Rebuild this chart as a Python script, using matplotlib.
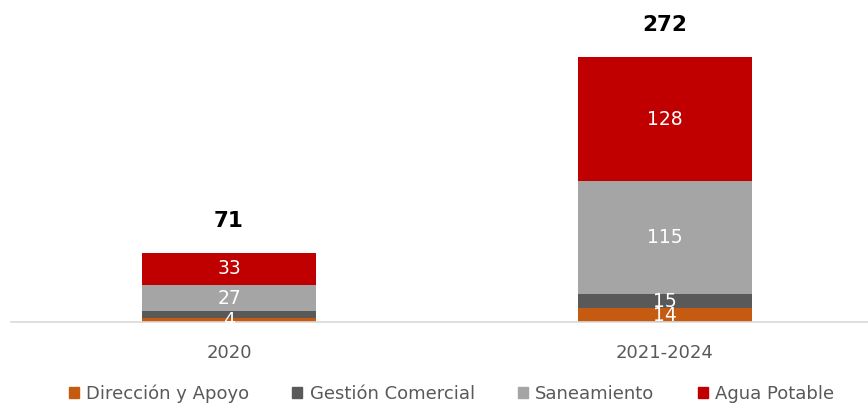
import matplotlib.pyplot as plt
import matplotlib.patches as mpatches

periods = ['2020', '2021-2024']
series = ['Dirección y Apoyo', 'Gestión Comercial', 'Saneamiento', 'Agua Potable']
direccion = [4, 14]
gestion = [7, 15]
saneamiento = [27, 115]
agua = [33, 128]
totals = [71, 272]
colors = ['#C55A11', '#595959', '#A5A5A5', '#C00000']

# which labels show inside the bars
shown = [
    [True, True],
    [False, True],
    [True, True],
    [True, True],
]

fig = plt.figure(figsize=(8.68, 4.08), dpi=100)
ax = fig.add_axes([11 / 868, 1 - 322 / 408, 872 / 868, 322 / 408])

x = range(len(periods))
bottom = [0, 0]
for i, (name, vals) in enumerate(zip(series, [direccion, gestion, saneamiento, agua])):
    ax.bar(x, vals, width=0.4, bottom=bottom, color=colors[i], label=name, zorder=2)
    for j, v in enumerate(vals):
        if shown[i][j]:
            ax.text(j, bottom[j] + v / 2, str(v), ha='center', va='center',
                    color='white', fontsize=13.5, zorder=3)
    bottom = [b + v for b, v in zip(bottom, vals)]

for j, t in enumerate(totals):
    ax.text(j, bottom[j] + 22, str(t), ha='center', va='bottom',
            fontsize=15.5, fontweight='bold', color='black')

ax.set_xlim(-0.5, 1.5)
ax.set_ylim(0, 330)
ax.set_xticks(list(x))
ax.set_xticklabels(periods, fontsize=13, color='#595959')
ax.tick_params(axis='x', length=0, pad=16)
ax.set_yticks([])
for s in ['top', 'right', 'left']:
    ax.spines[s].set_visible(False)
ax.spines['bottom'].set_color('#D9D9D9')
ax.spines['bottom'].set_linewidth(1.2)
ax.patch.set_alpha(0)

handles = [mpatches.Patch(color=c, label=n) for c, n in zip(colors, series)]
fig.legend(handles=handles, loc='lower center', bbox_to_anchor=(0.52, -0.028), ncol=4,
           frameon=False, fontsize=13, handlelength=0.55, handleheight=0.55,
           handletextpad=0.4, columnspacing=2.4, labelcolor='#595959')

plt.savefig('out.png', dpi=100)
